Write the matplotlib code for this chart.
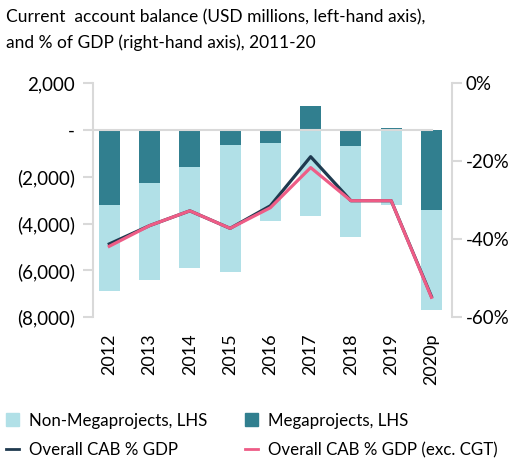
import numpy as np
import matplotlib
matplotlib.use("Agg")
import matplotlib.pyplot as plt
from matplotlib.patches import Patch
from matplotlib.lines import Line2D
from matplotlib.ticker import FuncFormatter

years = ["2012", "2013", "2014", "2015", "2016", "2017", "2018", "2019", "2020p"]
mega = [-3200, -2280, -1580, -640, -560, 1020, -680, 100, -3410]
non_mega = [-3700, -4110, -4330, -5420, -3320, -3660, -3880, -3190, -4270]
cab_pct = [-41.2, -36.5, -32.7, -37.2, -31.4, -18.8, -30.1, -30.1, -54.7]
cab_pct_exc_cgt = [-41.8, -36.5, -32.7, -37.2, -31.9, -21.6, -30.1, -30.1, -54.9]

c_light = "#b1e0e7"
c_teal = "#317f8f"
c_dark = "#1f3a4f"
c_pink = "#ee5c86"
c_grey = "#d9d9d9"

plt.rcParams['font.family'] = ['Lato', 'DejaVu Sans']

def lhs_fmt(v, pos):
    if v == 0:
        return "-"
    if v < 0:
        return "({:,.0f})".format(-v)
    return "{:,.0f}".format(v)

def main():
    fig = plt.figure(figsize=(5.12, 4.61), dpi=100)
    ax = fig.add_axes([0.182, 0.312, 0.700, 0.507])
    x = np.arange(len(years))
    mega_a = np.array(mega)
    bottom_nm = np.minimum(mega_a, 0)

    ax.bar(x, non_mega, width=0.52, bottom=bottom_nm, color=c_light, zorder=2)
    ax.bar(x, mega, width=0.52, color=c_teal, zorder=2)
    ax.axhline(0, xmin=0, xmax=0.945, color=c_grey, lw=1.5, zorder=3)

    ax.set_xlim(-0.4, 8.5)
    ax.set_ylim(-8000, 2000)
    ax.set_yticks(np.arange(-8000, 2001, 2000))
    ax.yaxis.set_major_formatter(FuncFormatter(lhs_fmt))
    ax.set_xticks(x)
    ax.set_xticklabels(years, rotation=90, fontsize=13)
    ax.tick_params(axis='x', length=0, pad=12)
    ax.tick_params(axis='y', length=7, width=1.5, color=c_grey, labelsize=13.5, pad=6)
    for s in ["top", "bottom", "right"]:
        ax.spines[s].set_visible(False)
    ax.spines["left"].set_color(c_grey)
    ax.spines["left"].set_linewidth(1.5)

    ax2 = ax.twinx()
    ax2.plot(x, cab_pct, color=c_dark, lw=2.3, zorder=4)
    ax2.plot(x, cab_pct_exc_cgt, color=c_pink, lw=2.3, zorder=5)
    ax2.set_ylim(-60, 0)
    ax2.set_yticks([0, -20, -40, -60])
    ax2.set_yticklabels(["0%", "-20%", "-40%", "-60%"])
    ax2.tick_params(axis='y', length=7, width=1.5, color=c_grey, labelsize=13.5, pad=3)
    for s in ["top", "bottom", "left"]:
        ax2.spines[s].set_visible(False)
    ax2.spines["right"].set_color(c_grey)
    ax2.spines["right"].set_linewidth(1.5)

    fig.text(0.012, 0.98, "Current  account balance (USD millions, left-hand axis),\nand % of GDP (right-hand axis), 2011-20",
             fontsize=12.5, va='top', ha='left', linespacing=1.65)

    handles = [Patch(color=c_light), Patch(color=c_teal),
               Line2D([], [], color=c_dark, lw=2), Line2D([], [], color=c_pink, lw=2)]
    labels = ["Non-Megaprojects, LHS", "Megaprojects, LHS", "Overall CAB % GDP", "Overall CAB % GDP (exc. CGT)"]
    order = [0, 2, 1, 3]
    fig.legend([handles[i] for i in order], [labels[i] for i in order], ncol=2,
               loc='lower left', bbox_to_anchor=(-0.019, -0.027), frameon=False,
               fontsize=12.2, handlelength=0.8, handleheight=0.8, handletextpad=0.6,
               columnspacing=2.2, labelspacing=0.78)

    fig.savefig("out.png", dpi=100)

if __name__ == "__main__":
    main()
